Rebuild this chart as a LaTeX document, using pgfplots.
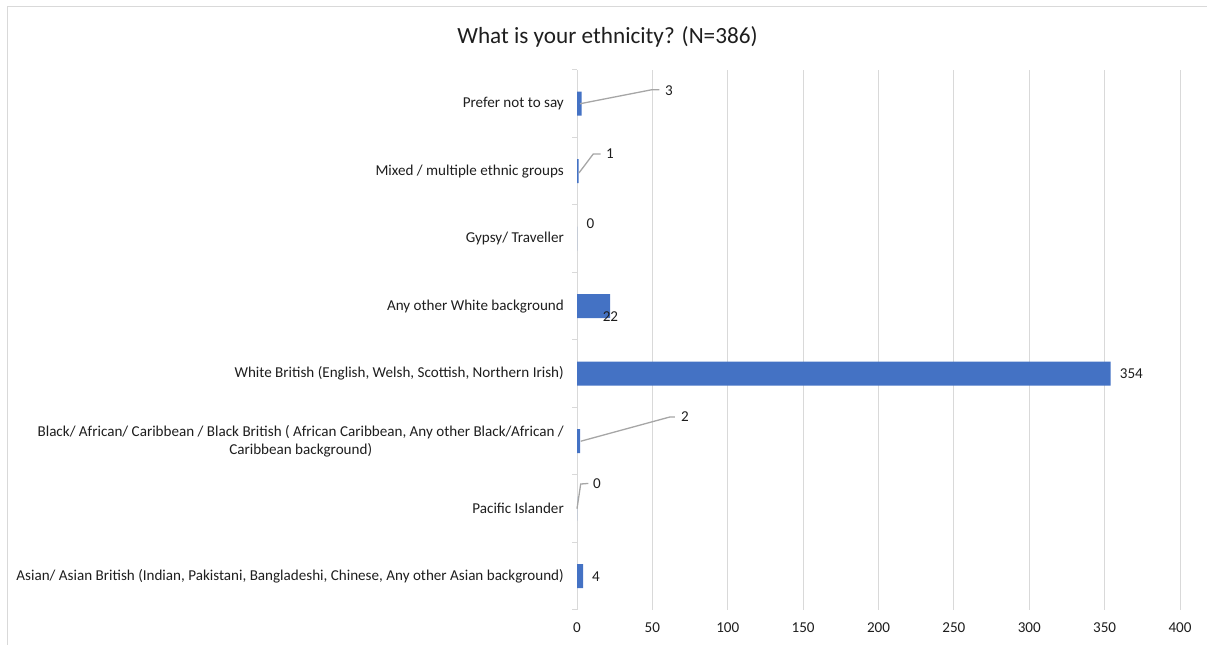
\documentclass[border=0pt]{standalone}
\usepackage{fontspec}
\setmainfont{Carlito}
\usepackage{pgfplots}
\pgfplotsset{compat=1.18}
\definecolor{barblue}{HTML}{4472C4}
\definecolor{gridgray}{HTML}{D9D9D9}
\definecolor{leadgray}{HTML}{A6A6A6}
\definecolor{txt}{HTML}{1E1E1E}
\newcommand{\lbl}{\fontsize{15.1bp}{18bp}\selectfont}
\begin{document}
\begin{tikzpicture}[x=1bp,y=1bp]
\path[use as bounding box] (0,0) rectangle (1207,645);
\draw[gridgray, line width=1bp] (7,0) -- (7,638) -- (1207,638);
\node[txt, font=\fontsize{23.2bp}{26bp}\selectfont] at (607.5,608) {What is your ethnicity? (N=386)};
\begin{axis}[
  at={(577bp,35bp)}, anchor=south west,
  scale only axis, width=603bp, height=540bp,
  xmin=0, xmax=400, ymin=-0.5, ymax=7.5,
  xbar, bar width=24bp, bar shift=0pt,
  axis line style={draw=none},
  xtick={0,50,...,400},
  xmajorgrids, grid style={gridgray, line width=1bp},
  ytick={0,...,7},
  yticklabels={
    {Asian/ Asian British (Indian, Pakistani, Bangladeshi, Chinese, Any other Asian background)},
    {Pacific Islander},
    {Black/ African/ Caribbean / Black British ( African Caribbean, Any other Black/African /\\Caribbean background)},
    {White British (English, Welsh, Scottish, Northern Irish)},
    {Any other White background},
    {Gypsy/ Traveller},
    {Mixed / multiple ethnic groups},
    {Prefer not to say}},
  minor ytick={-0.5,0.5,...,7.5},
  major tick length=0pt, minor tick length=5bp,
  tick align=outside, ytick pos=left, xtick pos=bottom,
  tick style={gridgray, line width=1bp},
  /pgf/number format/assume math mode=true,
  xticklabel style={txt, font=\lbl, inner sep=0pt, anchor=north, yshift=-13bp},
  yticklabel style={txt, font=\lbl, align=center, inner sep=0pt, anchor=east, xshift=-13bp},
  clip=false,
]
\addplot[fill=barblue, draw=none] coordinates {(4,0) (0,1) (2,2) (354,3) (22,4) (0,5) (1,6) (3,7)};
% leader lines
\draw[leadgray, line width=1.3bp] (axis cs:2,7) -- (axis cs:49.5,7.207) -- (axis cs:54.6,7.207);
\draw[leadgray, line width=1.3bp] (axis cs:1.3,5.975) -- (axis cs:10.8,6.256) -- (axis cs:15.7,6.256);
\draw[leadgray, line width=1.3bp] (axis cs:2.45,2) -- (axis cs:61.7,2.36) -- (axis cs:65,2.36);
\draw[leadgray, line width=1.3bp] (axis cs:0,1) -- (axis cs:2.45,1.366) -- (axis cs:7.5,1.375);
% data labels
\node[txt, font=\lbl, anchor=west, inner sep=0pt] at (axis cs:58.4,7.2) {3};
\node[txt, font=\lbl, anchor=west, inner sep=0pt] at (axis cs:19.2,6.26) {1};
\node[txt, font=\lbl, inner sep=0pt] at (axis cs:9,5.22) {0};
\node[txt, font=\lbl, inner sep=0pt] at (axis cs:22.2,3.85) {22};
\node[txt, font=\lbl, anchor=west, inner sep=0pt, xshift=9bp] at (axis cs:354,3) {354};
\node[txt, font=\lbl, anchor=west, inner sep=0pt] at (axis cs:69,2.36) {2};
\node[txt, font=\lbl, anchor=west, inner sep=0pt] at (axis cs:10.6,1.37) {0};
\node[txt, font=\lbl, anchor=west, inner sep=0pt, xshift=9bp] at (axis cs:4,0) {4};
\end{axis}
\end{tikzpicture}
\end{document}
